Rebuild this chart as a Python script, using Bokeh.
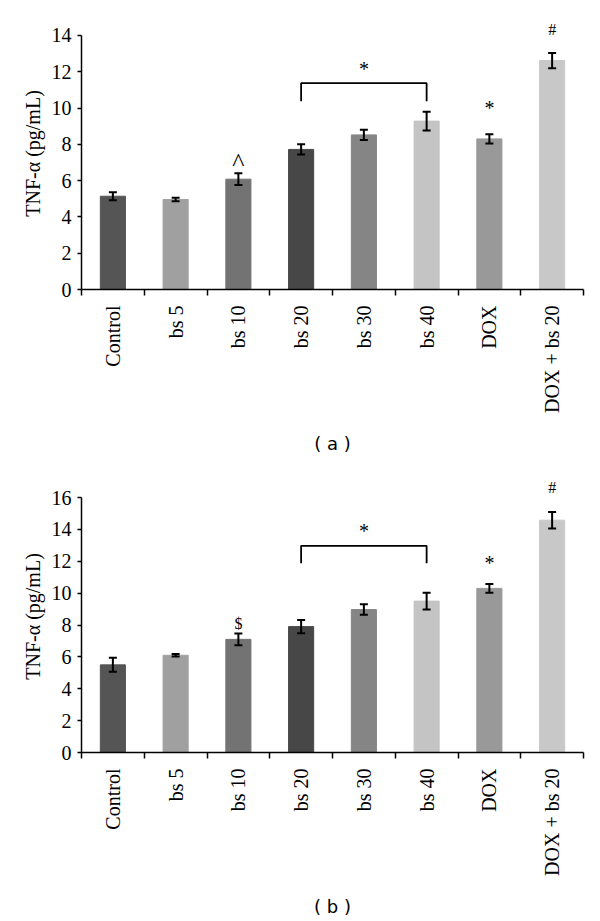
import math
from bokeh.plotting import figure
from bokeh.layouts import column
from bokeh.models import (ColumnDataSource, Range1d, FixedTicker, LinearAxis,
                          Whisker, TeeHead)
from bokeh.core.properties import value
from bokeh.embed import file_html
from bokeh.resources import INLINE

# ---------------- data ----------------
categories = ["Control", "bs 5", "bs 10", "bs 20", "bs 30", "bs 40", "DOX", "DOX + bs 20"]
bar_colors = ["#555555", "#a0a0a0", "#737373", "#474747", "#858585", "#c4c4c4", "#999999", "#c8c8c8"]

values_a = [5.14, 4.96, 6.08, 7.72, 8.52, 9.28, 8.30, 12.62]
errors_a = [0.22, 0.10, 0.32, 0.28, 0.28, 0.52, 0.26, 0.42]

values_b = [5.50, 6.10, 7.10, 7.90, 8.97, 9.50, 10.30, 14.58]
errors_b = [0.44, 0.08, 0.37, 0.42, 0.33, 0.52, 0.28, 0.52]

yticks_a = [0, 2, 4, 6, 8, 10, 12, 14]
yticks_b = [0, 2, 4, 6, 8, 10, 12, 14, 16]

# significance marks: (category index, symbol)
marks_a = [(2, "^"), (6, "*"), (7, "#")]
marks_b = [(2, "$"), (6, "*"), (7, "#")]
bracket_span = (3, 5)  # bs 20 .. bs 40

SERIF = "Liberation Serif"


def make_panel(vals, errs, yticks, y_end, marks, caption, top_border, bottom_border,
               bracket_levels, star_level, mark_gap, cap_standoff):
    n = len(categories)
    x = [i + 0.5 for i in range(n)]
    src = ColumnDataSource(dict(x=x, top=vals, color=bar_colors,
                                upper=[v + e for v, e in zip(vals, errs)],
                                lower=[v - e for v, e in zip(vals, errs)]))
    p = figure(frame_width=502, frame_height=272, output_backend="svg",
               toolbar_location=None, x_range=Range1d(0, n), y_range=Range1d(0, y_end),
               x_axis_type=None, y_axis_type=None,
               min_border_left=81, min_border_right=17, min_border_top=top_border,
               min_border_bottom=bottom_border)
    p.outline_line_color = None
    p.xgrid.visible = False
    p.ygrid.visible = False
    p.background_fill_color = "white"
    p.border_fill_color = "white"

    p.vbar(x="x", top="top", width=0.4, bottom=0, color="color", source=src)
    w = Whisker(base="x", upper="upper", lower="lower", source=src, level="overlay",
                line_color="black", line_width=2,
                upper_head=TeeHead(size=8, line_width=2, line_color="black"),
                lower_head=TeeHead(size=8, line_width=2, line_color="black"))
    p.add_layout(w)

    # y axis
    yax = LinearAxis(ticker=FixedTicker(ticks=yticks), bounds=(0, yticks[-1]),
                     axis_label="TNF-α (pg/mL)")
    yax.axis_line_color = "black"
    yax.axis_line_width = 1.5
    yax.major_tick_line_color = "black"
    yax.major_tick_line_width = 1.5
    yax.major_tick_out = 4
    yax.major_tick_in = 0
    yax.minor_tick_line_color = None
    yax.major_label_text_font = SERIF
    yax.major_label_text_font_size = "20px"
    yax.major_label_text_color = "black"
    yax.major_label_standoff = 6
    yax.axis_label_text_font = SERIF
    yax.axis_label_text_font_size = "20px"
    yax.axis_label_text_font_style = "normal"
    yax.axis_label_text_color = "black"
    yax.axis_label_standoff = 5
    p.add_layout(yax, "left")

    # x axis: boundary ticks as minor ticks, labels at centres, caption as axis label
    xax = LinearAxis(ticker=FixedTicker(ticks=x, minor_ticks=list(range(n + 1))),
                     axis_label=caption)
    xax.major_label_overrides = {xi: c for xi, c in zip(x, categories)}
    xax.major_label_orientation = math.pi / 2
    xax.major_tick_out = 0
    xax.major_tick_in = 0
    xax.minor_tick_out = 6
    xax.minor_tick_in = 0
    xax.minor_tick_line_color = "black"
    xax.minor_tick_line_width = 1.5
    xax.axis_line_color = "black"
    xax.axis_line_width = 1.5
    xax.major_label_text_font = SERIF
    xax.major_label_text_font_size = "20px"
    xax.major_label_text_color = "black"
    xax.major_label_standoff = 10
    xax.axis_label_text_font = "DejaVu Sans"
    xax.axis_label_text_font_size = "18px"
    xax.axis_label_text_font_style = "normal"
    xax.axis_label_text_color = "black"
    xax.axis_label_standoff = cap_standoff
    p.add_layout(xax, "below")

    # bracket over bs 20 .. bs 40
    i0, i1 = bracket_span
    top_lvl, leg_lvl = bracket_levels
    p.line([x[i0], x[i0], x[i1], x[i1]], [leg_lvl, top_lvl, top_lvl, leg_lvl],
           line_color="black", line_width=1.8)
    p.text([(x[i0] + x[i1]) / 2], [star_level], text=["*"], text_align="center",
           text_baseline="alphabetic", text_font=value(SERIF), text_font_size="20px",
           text_color="black")

    # individual marks
    sizes = {"*": "20px", "#": "16px", "$": "16px", "^": "26px"}
    for (i, sym) in marks:
        p.text([x[i]], [vals[i] + errs[i] + mark_gap[sym]], text=[sym], text_align="center",
               text_baseline="alphabetic", text_font=value(SERIF), text_font_size=sizes[sym],
               text_color="black")
    return p


pa = make_panel(values_a, errors_a, yticks_a, 14.99, marks_a, "( a )", 17, 181,
                (11.37, 10.38), 12.17,
                {"^": 0.62, "*": 1.46, "#": 1.29}, 17)
pb = make_panel(values_b, errors_b, yticks_b, 17.07, marks_b, "( b )", 10, 20,
                (12.97, 11.88), 13.87,
                {"$": 0.6, "*": 1.32, "#": 1.51}, 17)

layout = column(pa, pb, spacing=0)
open("out.html", "w").write(file_html(layout, INLINE))
